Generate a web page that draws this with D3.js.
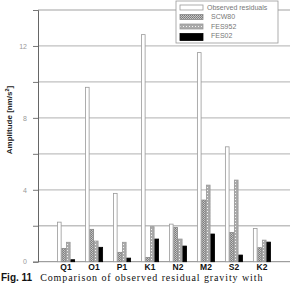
<!DOCTYPE html>
<html>
<head>
<meta charset="utf-8">
<script src="https://cdn.jsdelivr.net/npm/d3@7"></script>
<style>
  body { margin: 0; background: #fff; }
  svg { display: block; }
</style>
</head>
<body>
<div id="chart"></div>
<script>
const categories = ["Q1", "O1", "P1", "K1", "N2", "M2", "S2", "K2"];
const seriesNames = ["Observed residuals", "SCW80", "FES952", "FES02"];
const observed = [2.2, 9.7, 3.8, 12.63, 2.09, 11.63, 6.39, 1.85];
const scw80 = [0.74, 1.8, 0.52, 0.24, 1.91, 3.43, 1.63, 0.78];
const fes952 = [1.08, 1.15, 1.08, 1.95, 1.26, 4.26, 4.54, 1.2];
const fes02 = [0.11, 0.8, 0.2, 1.26, 0.87, 1.54, 0.37, 1.09];
const yTicks = [0, 4, 8, 12];

const width = 292, height = 284;
const margin = { top: 10, right: 2, bottom: 22, left: 38 };

const svg = d3.select("#chart").append("svg")
  .attr("width", width)
  .attr("height", height);

// patterns for the model series
const defs = svg.append("defs");
const p1 = defs.append("pattern").attr("id", "pat-scw").attr("patternUnits", "userSpaceOnUse")
  .attr("width", 2).attr("height", 2);
p1.append("rect").attr("width", 2).attr("height", 2).attr("fill", "#c4c4c4");
p1.append("rect").attr("width", 1).attr("height", 1).attr("fill", "#777");
p1.append("rect").attr("x", 1).attr("y", 1).attr("width", 1).attr("height", 1).attr("fill", "#888");
const p2 = defs.append("pattern").attr("id", "pat-fes").attr("patternUnits", "userSpaceOnUse")
  .attr("width", 3).attr("height", 3);
p2.append("rect").attr("width", 3).attr("height", 3).attr("fill", "#aaa");
p2.append("rect").attr("x", 1).attr("y", 1).attr("width", 1).attr("height", 1).attr("fill", "#f4f4f4");

const fills = ["#fff", "url(#pat-scw)", "url(#pat-fes)", "#000"];
const strokes = ["#999", "#888", "#999", "#000"];

const x0 = d3.scaleBand()
  .domain(categories)
  .range([margin.left, width - margin.right])
  .paddingInner(0.357)
  .paddingOuter(0.68);

const x1 = d3.scaleBand()
  .domain(seriesNames)
  .range([0, x0.bandwidth()]);

const y = d3.scaleLinear()
  .domain([0, 14])
  .range([height - margin.bottom - 0.3, margin.top]);

// gridlines every 2
svg.append("g")
  .selectAll("line")
  .data(d3.range(2, 15, 2))
  .join("line")
  .attr("x1", margin.left)
  .attr("x2", width - margin.right)
  .attr("y1", d => y(d))
  .attr("y2", d => y(d))
  .attr("stroke", "#c0c0c0")
  .attr("stroke-width", 1.3);

// baseline
svg.append("line")
  .attr("x1", margin.left).attr("x2", width - margin.right)
  .attr("y1", y(0)).attr("y2", y(0))
  .attr("stroke", "#888").attr("stroke-width", 1);

// y axis
const yAxis = svg.append("g")
  .attr("transform", `translate(${margin.left},0)`)
  .call(d3.axisLeft(y).tickValues(d3.range(0, 15, 2)).tickSize(5)
    .tickFormat(d => yTicks.includes(d) ? d : ""));
yAxis.select(".domain").attr("stroke", "#666");
yAxis.selectAll(".tick line").attr("stroke", "#777");
yAxis.selectAll(".tick text")
  .attr("fill", "#999")
  .attr("x", -11)
  .style("font-family", "Liberation Sans, Arial, sans-serif")
  .style("font-size", "7px");

// y title
svg.append("text")
  .attr("transform", `translate(9,${120}) rotate(-90)`)
  .attr("text-anchor", "middle")
  .attr("dy", "0.35em")
  .style("font-family", "Liberation Sans, Arial, sans-serif")
  .style("font-size", "8px")
  .style("font-weight", "bold")
  .attr("fill", "#222")
  .html('Amplitude [nm/s<tspan dy="-3" font-size="5.5px">2</tspan><tspan dy="3">]</tspan>');

// bars
const rows = categories.map((c, i) => ({
  cat: c,
  vals: [observed[i], scw80[i], fes952[i], fes02[i]]
}));

const groups = svg.append("g")
  .selectAll("g")
  .data(rows)
  .join("g")
  .attr("transform", d => `translate(${x0(d.cat)},0)`);

groups.selectAll("rect")
  .data(d => d.vals.map((v, k) => ({ key: seriesNames[k], k, v })))
  .join("rect")
  .attr("x", d => x1(d.key) + 0.4)
  .attr("y", d => y(d.v))
  .attr("width", x1.bandwidth() - 0.8)
  .attr("height", d => y(0) - y(d.v))
  .attr("fill", d => fills[d.k])
  .attr("stroke", d => strokes[d.k])
  .attr("stroke-width", 0.8);

// x labels
svg.append("g")
  .selectAll("text")
  .data(categories)
  .join("text")
  .attr("x", d => x0(d) + x0.bandwidth() / 2)
  .attr("y", 270)
  .attr("text-anchor", "middle")
  .style("font-family", "Liberation Sans, Arial, sans-serif")
  .style("font-size", "8.5px")
  .style("font-weight", "bold")
  .attr("fill", "#111")
  .text(d => d);

// legend
const legend = svg.append("g").attr("transform", "translate(176,1)");
legend.append("rect")
  .attr("width", 102).attr("height", 42)
  .attr("fill", "#fff").attr("stroke", "#999").attr("stroke-width", 0.8);
seriesNames.forEach((s, k) => {
  const ly = 4 + k * 9.5;
  legend.append("rect")
    .attr("x", 4).attr("y", ly)
    .attr("width", 23).attr("height", k === 3 ? 7 : 5)
    .attr("fill", fills[k]).attr("stroke", strokes[k]).attr("stroke-width", 0.8);
  legend.append("text")
    .attr("x", k === 0 ? 31 : 35)
    .attr("y", ly + 4.5)
    .style("font-family", "Liberation Sans, Arial, sans-serif")
    .style("font-size", "7px")
    .attr("fill", "#777")
    .text(s);
});

// caption, kept inside the frame
const cap = svg.append("text")
  .attr("x", 1)
  .attr("y", 281)
  .style("font-size", "10px")
  .attr("fill", "#111");
cap.append("tspan")
  .style("font-family", "Liberation Sans, Arial, sans-serif")
  .style("font-weight", "bold")
  .text("Fig. 11");
cap.append("tspan")
  .attr("dx", 8)
  .style("font-family", "Liberation Serif, Times New Roman, serif")
  .style("letter-spacing", "0.9px")
  .text("Comparison of observed residual gravity with");
</script>
</body>
</html>
